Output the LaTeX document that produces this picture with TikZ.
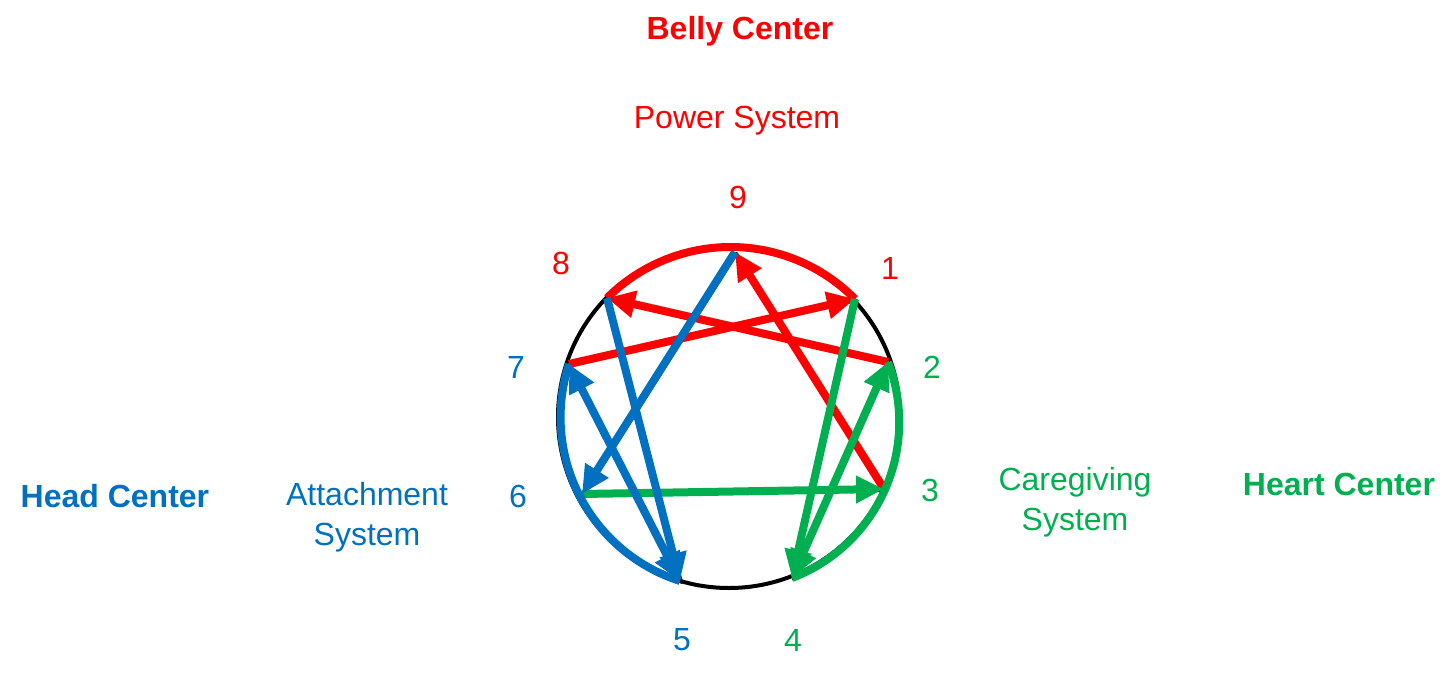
\documentclass[tikz,border=0pt]{standalone}
\usepackage{fontspec}
\setmainfont{Liberation Sans}
\usepackage{tikz}
\usetikzlibrary{arrows.meta}
\definecolor{BellyRed}{HTML}{FF0000}
\definecolor{HeadBlue}{HTML}{0070C0}
\definecolor{HeartGreen}{HTML}{00B050}

\begin{document}
\begin{tikzpicture}[x=0.5pt,y=0.5pt,>={Triangle[length=14pt,width=13pt]},
  every node/.style={font=\fontsize{16}{20}\selectfont, align=center},
  title/.style={font=\fontsize{16}{20}\selectfont\bfseries},
  base/.style={line width=1.5pt, black, line join=round},
  link/.style={line width=4pt}]
        \useasboundingbox (0,0) rectangle (1456,-685);
        % points of the figure
        \coordinate (ctr) at (729,-417);
        \coordinate (p9) at (735,-252);
        \coordinate (p1) at (855,-299);
        \coordinate (p2) at (888,-362);
        \coordinate (p3) at (884,-489);
        \coordinate (p4) at (792,-578);
        \coordinate (p5) at (680,-581);
        \coordinate (p6) at (582,-494);
        \coordinate (p7) at (569,-364);
        \coordinate (p8) at (607,-298);
        % labels
        \node[title, text=BellyRed] (belly) at (740,-31) {Belly Center};
        \node[text=BellyRed] (power) at (737,-121) {Power System};
        \node[text=BellyRed] (n9) at (738,-197) {9};
        \node[text=BellyRed] (n8) at (561,-263) {8};
        \node[text=BellyRed] (n1) at (890,-268) {1};
        \node[text=HeadBlue] (n7) at (516,-367) {7};
        \node[text=HeadBlue] (n6) at (518,-496) {6};
        \node[text=HeadBlue] (n5) at (682,-640) {5};
        \node[text=HeartGreen] (n2) at (932,-367) {2};
        \node[text=HeartGreen] (n3) at (930,-490) {3};
        \node[text=HeartGreen] (n4) at (793,-640) {4};
        \node[title, text=HeadBlue] (head) at (115,-496) {Head Center};
        \node[text=HeadBlue] (attach) at (367,-517) {Attachment\\System};
        \node[text=HeartGreen] (care) at (1075,-502) {Caregiving\\System};
        \node[title, text=HeartGreen] (heart) at (1339,-484) {Heart Center};
        % black enneagram underneath
        \begin{scope}[transform canvas={shift={(0.75pt,-0.75pt)}}]
        \draw[base] (p1) -- (p4) -- (p2) -- (p8) -- (p5) -- (p7) -- cycle;
        \draw[base] (p9) -- (p3) -- (p6) -- cycle;
        \end{scope}
        \draw[base, line width=2pt] (ctr) circle[radius=171];
        % belly
        \draw[link, BellyRed] (p8) to[bend left=45] (p1);
        \draw[link, BellyRed, ->] (p7) -- (p1);
        \draw[link, BellyRed, ->] (p2) -- (p8);
        \draw[link, BellyRed, ->] (p3) -- (p9);
        % heart
        \draw[link, HeartGreen] (p2) to[bend left=45] (p4);
        \draw[link, HeartGreen, ->] (p6) -- (p3);
        \draw[link, HeartGreen, ->] (p1) -- (p4);
        \draw[link, HeartGreen, <->] (p4) -- (p2);
        % head
        \draw[link, HeadBlue] (p7) to[bend right=45] (p5);
        \draw[link, HeadBlue, ->] (p8) -- (p5);
        \draw[link, HeadBlue, ->] (p9) -- (p6);
        \draw[link, HeadBlue, <->] (p5) -- (p7);
\end{tikzpicture}
\end{document}
